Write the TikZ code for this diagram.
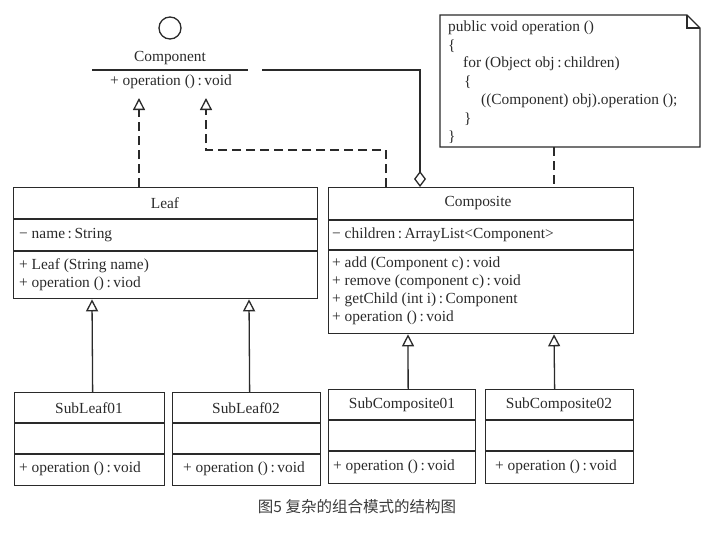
\documentclass[tikz,border=0pt]{standalone}
\usepackage{fontspec}
\setmainfont{Liberation Serif}
\newfontfamily\cjk{Noto Sans CJK SC}
\usetikzlibrary{arrows.meta,calc}
\definecolor{ink}{HTML}{2A2A2A}
\definecolor{cap}{HTML}{3A3A3A}
\begin{document}
\begin{tikzpicture}[x=1pt,y=-1pt,
  every node/.style={text=ink, font=\fontsize{15.4}{17}\selectfont},
  umlbox/.style={draw=ink, line width=1.3pt, inner sep=0pt, anchor=north west},
  sep/.style={draw=ink, line width=1.3pt},
  lt/.style={anchor=west, inner sep=0pt},
  ct/.style={inner sep=0pt},
  gen/.style={draw=ink, line width=1.3pt, -{Triangle[open,width=12pt,length=12pt]}},
  real/.style={gen, dash pattern=on 9pt off 5pt},
  agg/.style={draw=ink, line width=1.3pt, -{Diamond[open,width=12pt,length=16pt]}},
  notedash/.style={draw=ink, line width=1.3pt, dash pattern=on 9pt off 5pt}
]
\useasboundingbox (0,0) rectangle (718,541);
\newcommand{\cl}{\,:\,}

% Component
\node[draw=ink, line width=1.3pt, circle, minimum size=22pt, inner sep=0pt] (lolly) at (170,28) {};
\node[ct] (comp) at (170,58) {Component};
\node[ct] (compop) at (171,82) {+ operation ()\cl void};
\coordinate (cl1) at (92,70);
\coordinate (cl2) at (248,70);
\draw[sep] (cl1) -- (cl2);
\coordinate (ca1) at (139,98);
\coordinate (ca2) at (206,98);
\coordinate (cagg) at (262,70);

% Leaf
\node[umlbox, minimum width=304pt, minimum height=111pt] (leaf) at (13,187) {};
\draw[sep] ($(leaf.north west)+(0,32)$) -- ($(leaf.north east)+(0,32)$);
\draw[sep] ($(leaf.north west)+(0,64)$) -- ($(leaf.north east)+(0,64)$);
\node[ct] (leaft) at (165,203) {Leaf};
\node[lt] (leafa) at (19,235) {− name\cl String};
\node[lt] (leafm1) at (19,266) {+ Leaf (String name)};
\node[lt] (leafm2) at (19,284) {+ operation ()\cl viod};

% Composite
\node[umlbox, minimum width=305pt, minimum height=146pt] (compo) at (328,187) {};
\draw[sep] ($(compo.north west)+(0,33)$) -- ($(compo.north east)+(0,33)$);
\draw[sep] ($(compo.north west)+(0,63)$) -- ($(compo.north east)+(0,63)$);
\node[ct] (compot) at (478,203) {Composite};
\node[lt] (compoa) at (332,235) {− children\cl ArrayList<Component>};
\node[lt] (compom1) at (332,264) {+ add (Component c)\cl void};
\node[lt] (compom2) at (332,282) {+ remove (component c)\cl void};
\node[lt] (compom3) at (332,300) {+ getChild (int i)\cl Component};
\node[lt] (compom4) at (332,318) {+ operation ()\cl void};

% Note
\draw[draw=ink, line width=1.3pt] (440,15) -- (687,15) -- (700,28) -- (700,147) -- (440,147) -- cycle;
\draw[draw=ink, line width=1.1pt] (687,15) -- (687,28) -- (700,28);
\node[lt] (n1) at (448,28) {public void operation ()};
\node[lt] (n2) at (448,46) {\{};
\node[lt] (n3) at (463,64) {for (Object obj\cl children)};
\node[lt] (n4) at (464,82) {\{};
\node[lt] (n5) at (481,101) {((Component) obj).operation ();};
\node[lt] (n6) at (464,119) {\}};
\node[lt] (n7) at (448,137) {\}};
\coordinate (nb) at (554,147);

% Sub classes
\node[umlbox, minimum width=150pt, minimum height=93pt] (sl1) at (14,392) {};
\node[umlbox, minimum width=148pt, minimum height=93pt] (sl2) at (172,392) {};
\node[umlbox, minimum width=147pt, minimum height=94pt] (sc1) at (328,389) {};
\node[umlbox, minimum width=148pt, minimum height=94pt] (sc2) at (485,389) {};
\foreach \b in {sl1,sl2,sc1,sc2}{
  \draw[sep] ($(\b.north west)+(0,31)$) -- ($(\b.north east)+(0,31)$);
  \draw[sep] ($(\b.north west)+(0,62)$) -- ($(\b.north east)+(0,62)$);
}
\node[ct] (sl1t) at (89,408) {SubLeaf01};
\node[lt] (sl1m) at (19,469) {+ operation ()\cl void};
\node[ct] (sl2t) at (246,408) {SubLeaf02};
\node[lt] (sl2m) at (183,469) {+ operation ()\cl void};
\node[ct] (sc1t) at (402,405) {SubComposite01};
\node[lt] (sc1m) at (333,467) {+ operation ()\cl void};
\node[ct] (sc2t) at (559,405) {SubComposite02};
\node[lt] (sc2m) at (495,467) {+ operation ()\cl void};

% Connectors
\draw[real] (leaf.north -| ca1) -- (ca1);
\draw[real] ($(compo.north west)+(58,0)$) |- (ca2 |- 0,150) -- (ca2);
\draw[sep] (cagg) -| ($(compo.north west)+(92,-16)$);
\draw[agg] ($(compo.north west)+(92,-16)$) -- ($(compo.north west)+(92,0)$);
\draw[notedash] (nb) -- (nb |- compo.north);

\draw[gen] ($(sl1.north)+(3,0)$) -- ($(leaf.south west)+(79,0)$);
\draw[gen] ($(sl2.north)+(3,0)$) -- ($(leaf.south west)+(236,0)$);
\draw[gen] ($(sc1.north)+(6,0)$) -- ($(compo.south west)+(80,0)$);
\draw[gen] ($(sc2.north)+(-5,0)$) -- ($(compo.south west)+(226,0)$);

% Caption
\node[text=cap, font=\cjk\fontsize{15.5}{17}\selectfont] (caption) at (357,507) {图5 复杂的组合模式的结构图};
\end{tikzpicture}
\end{document}
